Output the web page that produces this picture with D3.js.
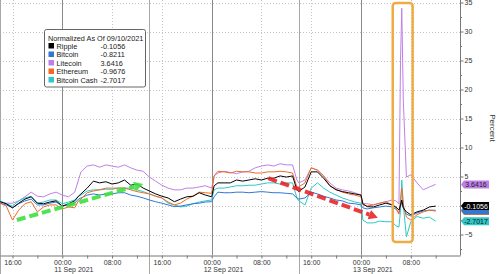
<!DOCTYPE html>
<html>
<head>
<meta charset="utf-8">
<script src="https://cdn.jsdelivr.net/npm/d3@7"></script>
<style>
body { margin: 0; background: #fff; }
svg { display: block; font-family: "Liberation Sans", Arial, sans-serif; }
</style>
</head>
<body>
<script>
// hours after 10 Sep 2021 14:00
var hours = [0,1,2,3,4,5,6,7,8,9,10,11,12, 12.6,
  13,14,15,16,17,18,19,20,21,22,23,24,25,26,27,28,29,30,31,32,33,34, 34.4,
  35,36,37,38,39,40,41,42,43,44,45,46,47, 47.7,
  48,49,50,51,52,53,54,55,56,57,58, 58.3,
  59,60,61,62,63, 63.6,64.1,64.35,64.55,64.8,65.3,
  66,67,68,69,70];

var ripple = [0.65,0.3,-0.4,0.4,1.1,1.5,0.4,0.3,0.6,0.8,-0.1,0.3,0.8, 1.6,
  2.0,3.0,4.2,3.9,4.1,3.7,3.9,4.4,3.5,3.7,3.0,2.5,2.0,1.6,1.3,0.65,1.1,1.5,1.6,2.2,1.8,1.5, 3.4,
  3.9,3.9,3.9,4.4,4.2,4.4,4.6,4.4,4.7,4.7,5.1,4.9,5.1, 2.7,
  2.4,3.2,5.8,5.8,4.7,3.4,2.7,2.4,2.2,2.0,1.8, 0.3,
  -0.2,-0.25,0.1,0.4,0.1, -0.25,-0.8,0.1,0.95,-0.4,-1.1,
  -1.6,-1.1,-0.8,-0.25,-0.1056];

var bitcoin = [0.4,0.1,-0.4,0.3,0.8,1.1,0.1,0.1,0.4,0.6,-0.1,0.1,0.4, 1.1,
  1.3,1.8,2.0,1.8,2.0,2.0,2.2,2.2,1.8,1.6,1.3,0.95,0.65,0.4,0.1,-0.2,-0.1,0.1,0.3,0.4,0.6,0.65, 1.5,
  2.3,2.2,2.2,2.3,2.3,2.2,2.3,2.4,2.3,2.2,2.2,2.1,2.0, 1.3,
  1.1,1.3,2.3,2.0,1.6,1.3,0.95,0.8,0.4,0.3,0.1, -0.4,
  -0.6,-0.4,-0.25,-0.1,-0.25, -0.6,-1.3,-0.1,0.6,-0.4,-1.5,
  -1.8,-1.3,-0.95,-0.8,-0.8211];

var litecoin = [0.65,0.4,0.4,0.8,1.5,2.3,1.6,1.5,2.0,2.3,1.8,1.5,2.3, 4.4,
  5.8,6.8,7.0,6.6,7.0,6.8,6.6,7.0,6.5,6.1,5.9,4.9,4.2,3.5,3.0,2.7,2.7,3.0,3.0,3.2,3.4,3.0, 5.1,
  5.6,5.9,5.7,5.5,5.8,5.9,6.5,6.8,7.0,6.8,7.2,7.0,7.0, 4.4,
  3.9,4.4,6.5,6.1,5.1,3.9,3.0,2.7,2.5,2.2,1.8, 0.3,
  0.3,0.1,0.4,0.65,0.95, 0.8,0.3,25,34,18,4.9,
  5.3,3.9,2.7,3.2,3.6416];

var ethereum = [0.4,-0.1,-2.5,-0.8,0.3,0.65,-1.1,-0.25,0.1,0.1,-0.6,-0.25,-0.4, 0.8,
  1.1,2.2,2.5,2.7,3.0,3.0,3.0,3.0,2.7,2.4,2.2,2.0,1.6,1.3,0.6,0.1,0.4,1.1,1.6,2.3,2.2,2.1, 5.1,
  5.9,5.8,5.6,5.9,5.8,5.8,5.6,5.6,5.8,5.8,5.9,5.8,5.6, 3.2,
  3.2,3.9,6.5,6.1,5.1,3.4,2.8,2.3,2.0,1.8,1.5, 0.1,
  -0.1,0.1,0.4,0.65,0.1, -0.4,-1.5,0.95,3.0,0.1,-2.0,
  -2.5,-1.6,-1.1,-0.8,-0.9676];

var bitcoinCash = [0.8,0.3,-0.1,0.8,1.3,1.6,0.4,0.6,0.95,0.95,0.3,0.6,0.95, 1.6,
  1.8,2.5,2.7,2.7,2.8,2.8,3.0,3.0,3.0,2.7,2.4,2.0,1.6,1.3,0.4,0.1,-0.25,-0.1,0.3,0.6,0.8,0.95, 2.7,
  3.0,3.0,3.2,3.4,3.4,3.5,3.5,3.7,3.9,3.9,3.7,3.9,3.9, 1.3,
  0.8,0.1,3.0,3.9,3.0,2.3,1.8,1.3,0.95,0.6,0.4, -2.5,
  -3.0,-3.0,-2.7,-2.8,-2.8, -3.5,-3.7,-0.8,4.4,0.1,-5.4,
  -2.8,-1.9,-2.2,-2.0,-2.7017];

var seriesNames = ["Ripple", "Bitcoin", "Litecoin", "Ethereum", "Bitcoin Cash"];
var seriesColors = ["#000000", "#2f78d4", "#c07fe8", "#f26a22", "#2ec8c8"];
var seriesValues = [ripple, bitcoin, litecoin, ethereum, bitcoinCash];
var lastValues = ["-0.1056", "-0.8211", "3.6416", "-0.9676", "-2.7017"];
var legendTitle = "Normalized As Of 09/10/2021";
var yTicks = [-5, 0, 5, 10, 15, 20, 25, 30, 35];
var yMinorTicks = [-7.5, -2.5, 2.5, 7.5, 12.5, 17.5, 22.5, 27.5, 32.5];
var dayLabels = ["11 Sep 2021", "12 Sep 2021", "13 Sep 2021"];
var sessionHours = [0, 24, 48];

// annotations, in [hours, percent]
var greenArrow = [[2.7, -2.5], [23, 3.7]];
var redArrow = [[43.1, 4.7], [60.7, -2.1]];
var spikeBox = [[63.1, 34.9], [66.3, -6.3]];

var W = 500, H = 274, plotRight = 460, plotBottom = 255;

var start = new Date(2021, 8, 10, 14);
function toDate(h) { return new Date(+start + h * 36e5); }

var x0 = d3.scaleTime()
    .domain([new Date(2021, 8, 10, 16), new Date(2021, 8, 13, 0)])
    .range([12.5, 361]);
var x = d3.scaleTime()
    .domain([x0.invert(0), x0.invert(plotRight)])
    .range([0, plotRight]);

var y = d3.scaleLinear()
    .domain([-5, 35])
    .range([234.5, 2.5]);

var svg = d3.select("body").append("svg")
    .attr("width", W)
    .attr("height", H);

// horizontal grid
svg.append("g").selectAll("line")
    .data(yTicks)
    .enter().append("line")
    .attr("x1", 0).attr("x2", plotRight)
    .attr("y1", function(d) { return Math.round(y(d)) + 0.5; })
    .attr("y2", function(d) { return Math.round(y(d)) + 0.5; })
    .attr("stroke", "#c4c4c4")
    .attr("stroke-dasharray", "1,2");

// vertical grid every 8 hours
svg.append("g").selectAll("line")
    .data(x.ticks(d3.timeHour.every(8)))
    .enter().append("line")
    .attr("x1", function(d) { return Math.round(x(d)) + 0.5; })
    .attr("x2", function(d) { return Math.round(x(d)) + 0.5; })
    .attr("y1", 0).attr("y2", plotBottom)
    .attr("stroke", function(d) { return d.getHours() === 0 ? "#8a8a8a" : "#c4c4c4"; })
    .attr("stroke-dasharray", function(d) { return d.getHours() === 0 ? null : "1,2"; });

// session separators
svg.append("g").selectAll("line")
    .data(sessionHours)
    .enter().append("line")
    .attr("x1", function(d) { return Math.round(x(toDate(d))) + 0.5; })
    .attr("x2", function(d) { return Math.round(x(toDate(d))) + 0.5; })
    .attr("y1", 0).attr("y2", H)
    .attr("stroke", "#a8a8a8");

// series lines
var line = d3.line()
    .x(function(d, i) { return x(toDate(hours[i])); })
    .y(function(d) { return y(d); });

var drawOrder = [2, 4, 1, 3, 0];
drawOrder.forEach(function(k) {
    svg.append("path")
        .datum(seriesValues[k])
        .attr("fill", "none")
        .attr("stroke", seriesColors[k])
        .attr("stroke-width", 1)
        .attr("stroke-linejoin", "round")
        .attr("d", line);
});

// dashed arrows
function arrow(pts, color) {
    var x1 = x(toDate(pts[0][0])), y1 = y(pts[0][1]);
    var x2 = x(toDate(pts[1][0])), y2 = y(pts[1][1]);
    var a = Math.atan2(y2 - y1, x2 - x1);
    var head = 9, hw = 5;
    var bx = x2 - head * Math.cos(a), by = y2 - head * Math.sin(a);
    svg.append("line")
        .attr("x1", x1).attr("y1", y1)
        .attr("x2", bx).attr("y2", by)
        .attr("stroke", color)
        .attr("stroke-width", 4)
        .attr("stroke-dasharray", "9,4")
        .attr("opacity", 0.9);
    var px = -Math.sin(a) * hw, py = Math.cos(a) * hw;
    svg.append("path")
        .attr("d", "M" + x2 + "," + y2 + "L" + (bx + px) + "," + (by + py) + "L" + (bx - px) + "," + (by - py) + "Z")
        .attr("fill", color)
        .attr("opacity", 0.9);
}
arrow(greenArrow, "#3ee03e");
arrow(redArrow, "#e8262a");

// highlight box around the spike
svg.append("rect")
    .attr("x", x(toDate(spikeBox[0][0])))
    .attr("y", y(spikeBox[0][1]))
    .attr("width", x(toDate(spikeBox[1][0])) - x(toDate(spikeBox[0][0])))
    .attr("height", y(spikeBox[1][1]) - y(spikeBox[0][1]))
    .attr("rx", 3)
    .attr("fill", "none")
    .attr("stroke", "#efac45")
    .attr("stroke-width", 2.5);

// bottom axis
var xAxis = d3.axisBottom(x)
    .ticks(d3.timeHour.every(4))
    .tickSize(3)
    .tickSizeOuter(0)
    .tickPadding(2)
    .tickFormat(function(d) { return d.getHours() % 8 === 0 ? d3.timeFormat("%H:%M")(d) : ""; });

var gx = svg.append("g")
    .attr("transform", "translate(0," + (plotBottom + 0.5) + ")")
    .call(xAxis);
gx.attr("font-family", null).attr("font-size", 7);
gx.select(".domain").attr("stroke", "#777");
gx.selectAll(".tick line").attr("stroke", "#777");
gx.selectAll(".tick text").attr("fill", "#333");

svg.append("g").selectAll("text")
    .data(dayLabels)
    .enter().append("text")
    .attr("x", function(d, i) { return x(new Date(2021, 8, 11 + i)) - 8; })
    .attr("y", 271.5)
    .attr("font-size", 7)
    .attr("fill", "#333")
    .text(function(d) { return d; });

// right axis
svg.append("line")
    .attr("x1", plotRight + 0.5).attr("x2", plotRight + 0.5)
    .attr("y1", 0).attr("y2", plotBottom + 0.5)
    .attr("stroke", "#777");

var yAxis = d3.axisRight(y)
    .tickValues(yTicks)
    .tickSize(3)
    .tickPadding(1);
var gy = svg.append("g")
    .attr("transform", "translate(" + (plotRight + 0.5) + ",0)")
    .call(yAxis);
gy.attr("font-family", null).attr("font-size", 7);
gy.select(".domain").remove();
gy.selectAll(".tick line").attr("stroke", "#777");
gy.selectAll(".tick text").attr("fill", "#333");

svg.append("g").selectAll("line")
    .data(yMinorTicks)
    .enter().append("line")
    .attr("x1", plotRight).attr("x2", plotRight + 2)
    .attr("y1", function(d) { return Math.round(y(d)) + 0.5; })
    .attr("y2", function(d) { return Math.round(y(d)) + 0.5; })
    .attr("stroke", "#777");

svg.append("text")
    .attr("transform", "translate(490,128) rotate(90)")
    .attr("text-anchor", "middle")
    .attr("font-size", 8)
    .attr("fill", "#333")
    .text("Percent");

// last value tags (Ethereum and Bitcoin tags sit underneath, text hidden)
var tagOrder = [3, 1, 0, 4, 2];
var tagShown = [true, false, true, false, true];
var tagText = ["#fff", "#fff", "#222", "#fff", "#111"];
tagOrder.forEach(function(k) {
    var cy = y(+lastValues[k]);
    svg.append("path")
        .attr("d", "M" + (plotRight + 1) + "," + cy + "L" + (plotRight + 4) + "," + (cy - 4) +
            "L489," + (cy - 4) + "L489," + (cy + 4) + "L" + (plotRight + 4) + "," + (cy + 4) + "Z")
        .attr("fill", seriesColors[k]);
    if (!tagShown[k]) return;
    svg.append("text")
        .attr("x", 476).attr("y", cy)
        .attr("dy", "0.35em")
        .attr("text-anchor", "middle")
        .attr("font-size", 7)
        .attr("fill", tagText[k])
        .text(lastValues[k]);
});

// legend
var lg = svg.append("g").attr("transform", "translate(44.5,29.5)");
lg.append("rect")
    .attr("width", 101).attr("height", 57.5)
    .attr("rx", 2)
    .attr("fill", "#fff")
    .attr("stroke", "#666");
lg.append("text")
    .attr("x", 3.5).attr("y", 11)
    .attr("font-size", 7.3)
    .attr("fill", "#222")
    .text(legendTitle);
var rows = lg.selectAll(".row")
    .data(seriesNames)
    .enter().append("g")
    .attr("class", "row")
    .attr("transform", function(d, i) { return "translate(0," + (16.5 + i * 8.5) + ")"; });
rows.append("rect")
    .attr("x", 4).attr("y", -3)
    .attr("width", 5.5).attr("height", 5.5)
    .attr("fill", function(d, i) { return seriesColors[i]; });
rows.append("text")
    .attr("x", 12).attr("dy", "0.35em")
    .attr("font-size", 7.3)
    .attr("fill", "#222")
    .text(function(d) { return d; });
rows.append("text")
    .attr("x", 56).attr("dy", "0.35em")
    .attr("font-size", 7.3)
    .attr("fill", "#222")
    .text(function(d, i) { return lastValues[i]; });
</script>
</body>
</html>
